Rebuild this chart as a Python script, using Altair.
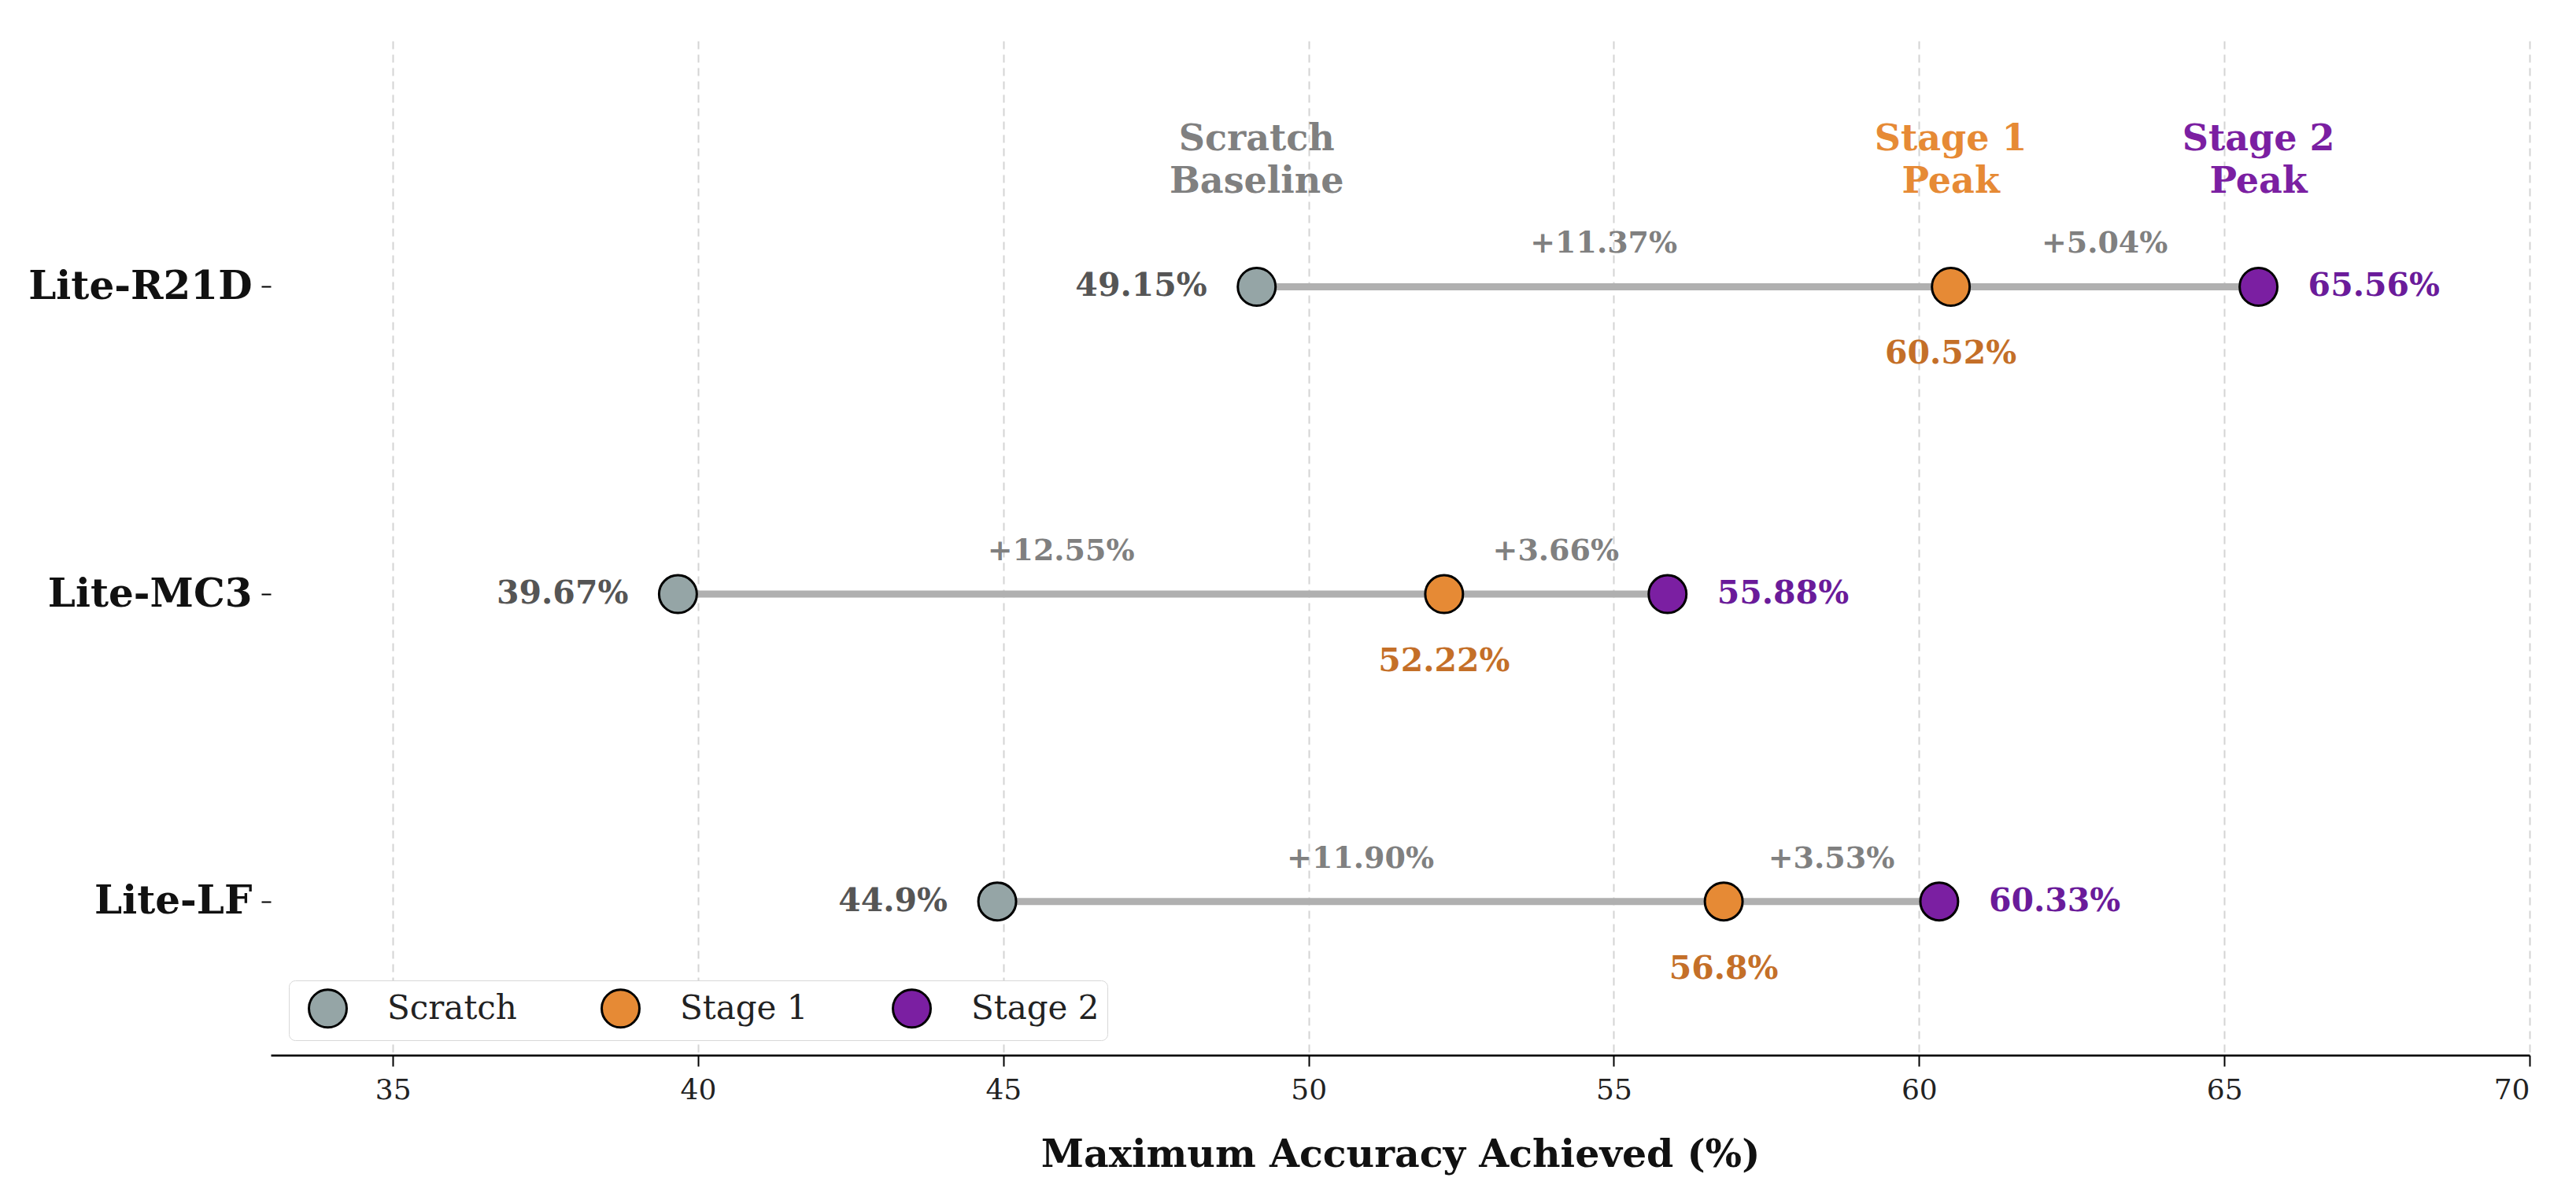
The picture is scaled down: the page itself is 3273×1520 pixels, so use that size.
import altair as alt
import pandas as pd

models = ["Lite-R21D", "Lite-MC3", "Lite-LF"]
model_pos = [2, 1, 0]
scratch = [49.15, 39.67, 44.9]
stage1 = [60.52, 52.22, 56.8]
stage2 = [65.56, 55.88, 60.33]
stages = ["Scratch", "Stage 1", "Stage 2"]
stage_colors = ["#95a5a6", "#e68a35", "#7b1fa2"]
headers = ["Scratch\nBaseline", "Stage 1\nPeak", "Stage 2\nPeak"]
header_colors = ["#808080", "#e68a35", "#7b1fa2"]
x_ticks = [35, 40, 45, 50, 55, 60, 65, 70]

FONT = "DejaVu Serif"

rows = pd.DataFrame({
    "model": models, "pos": model_pos,
    "scratch": scratch, "stage1": stage1, "stage2": stage2,
})
rows["lab0"] = [f"{v}%" for v in scratch]
rows["lab1"] = [f"{v}%" for v in stage1]
rows["lab2"] = [f"{v}%" for v in stage2]
rows["mid1"] = [(a + b) / 2 for a, b in zip(scratch, stage1)]
rows["mid2"] = [(a + b) / 2 for a, b in zip(stage1, stage2)]
rows["d1"] = [f"+{b - a:.2f}%" for a, b in zip(scratch, stage1)]
rows["d2"] = [f"+{b - a:.2f}%" for a, b in zip(stage1, stage2)]

pts = pd.DataFrame({
    "pos": model_pos * 3,
    "value": scratch + stage1 + stage2,
    "stage": [s for s in stages for _ in models],
})

hdr = pd.DataFrame({
    "x": [scratch[0], stage1[0], stage2[0]],
    "y": [2.48, 2.48, 2.48],
    "text": headers,
    "col": header_colors,
})

label_expr = "datum.value == 2 ? 'Lite-R21D' : datum.value == 1 ? 'Lite-MC3' : datum.value == 0 ? 'Lite-LF' : ''"

xscale = alt.Scale(domain=[33, 70], nice=False, zero=False)
yscale = alt.Scale(domain=[-0.5, 2.8], nice=False, zero=False)

xenc = alt.X("scratch:Q", scale=xscale, axis=alt.Axis(
    values=x_ticks, format="d", title="Maximum Accuracy Achieved (%)", grid=True,
    gridDash=[10, 7], gridColor="#d4d4d4", gridWidth=2,
    domainColor="black", domainWidth=2.5, tickColor="black", tickWidth=2, tickSize=14,
    labelFont=FONT, labelFontSize=36, labelColor="#222222", labelPadding=13,
    titleFont=FONT, titleFontSize=49, titleFontWeight="bold", titleColor="#111111",
    titlePadding=40))
yenc = alt.Y("pos:Q", scale=yscale, axis=alt.Axis(
    values=[0, 1, 2], labelExpr=label_expr, title=None, grid=False, domain=False,
    tickColor="black", tickWidth=2, tickSize=12, labelPadding=12, labelLimit=0,
    labelFont=FONT, labelFontSize=50, labelFontWeight="bold", labelColor="#111111",
    minExtent=336, maxExtent=336))

base = alt.Chart(rows)

rule = base.mark_rule(strokeWidth=9, color="#b0b0b0").encode(
    x=xenc, x2="stage2:Q", y=yenc)

points = alt.Chart(pts).mark_point(filled=True, size=2300, opacity=1,
                                   stroke="black", strokeWidth=3, shape="circle").encode(
    x=alt.X("value:Q", scale=xscale),
    y=alt.Y("pos:Q", scale=yscale),
    color=alt.Color("stage:N", scale=alt.Scale(domain=stages, range=stage_colors),
                    legend=alt.Legend(
                        title=None, orient="none", legendX=23, legendY=1194,
                        direction="horizontal", columns=3,
                        symbolType="circle", symbolSize=2300, symbolStrokeColor="black",
                        symbolStrokeWidth=3, symbolOpacity=1, labelLimit=0,
                        symbolOffset=14,
                        labelFont=FONT, labelFontSize=42, labelColor="#222222",
                        labelOffset=50, columnPadding=92, padding=10,
                        fillColor="white", strokeColor="#d8d8d8", cornerRadius=8)),
)

tx = dict(font=FONT, fontWeight="bold", baseline="middle")

lab0 = base.mark_text(align="right", dx=-63, fontSize=41, color="#555555", **tx).encode(
    x=alt.X("scratch:Q", scale=xscale), y=alt.Y("pos:Q", scale=yscale), text="lab0:N")
lab1 = base.mark_text(align="center", dy=86, fontSize=41, color="#c46f28", **tx).encode(
    x=alt.X("stage1:Q", scale=xscale), y=alt.Y("pos:Q", scale=yscale), text="lab1:N")
lab2 = base.mark_text(align="left", dx=63, fontSize=41, color="#6a1b9a", **tx).encode(
    x=alt.X("stage2:Q", scale=xscale), y=alt.Y("pos:Q", scale=yscale), text="lab2:N")
d1 = base.mark_text(align="center", dy=-54, fontSize=38, color="#808080", **tx).encode(
    x=alt.X("mid1:Q", scale=xscale), y=alt.Y("pos:Q", scale=yscale), text="d1:N")
d2 = base.mark_text(align="center", dy=-54, fontSize=38, color="#808080", **tx).encode(
    x=alt.X("mid2:Q", scale=xscale), y=alt.Y("pos:Q", scale=yscale), text="d2:N")

head = alt.Chart(hdr).mark_text(align="center", fontSize=46, lineBreak="\n",
                                lineHeight=54, **tx).encode(
    x=alt.X("x:Q", scale=xscale), y=alt.Y("y:Q", scale=yscale), text="text:N",
    color=alt.Color("col:N", scale=None, legend=None))

chart = alt.layer(rule, points, lab0, lab1, lab2, d1, d2, head).properties(
    width=2870, height=1289,
    padding={"left": 0, "top": 44, "right": 30, "bottom": 10},
    view=alt.ViewBackground(stroke="transparent", strokeWidth=0),
).configure_view(stroke="transparent", strokeWidth=0).configure(background="white")

chart.save("out.html", embed_options={"renderer": "svg", "actions": False})
